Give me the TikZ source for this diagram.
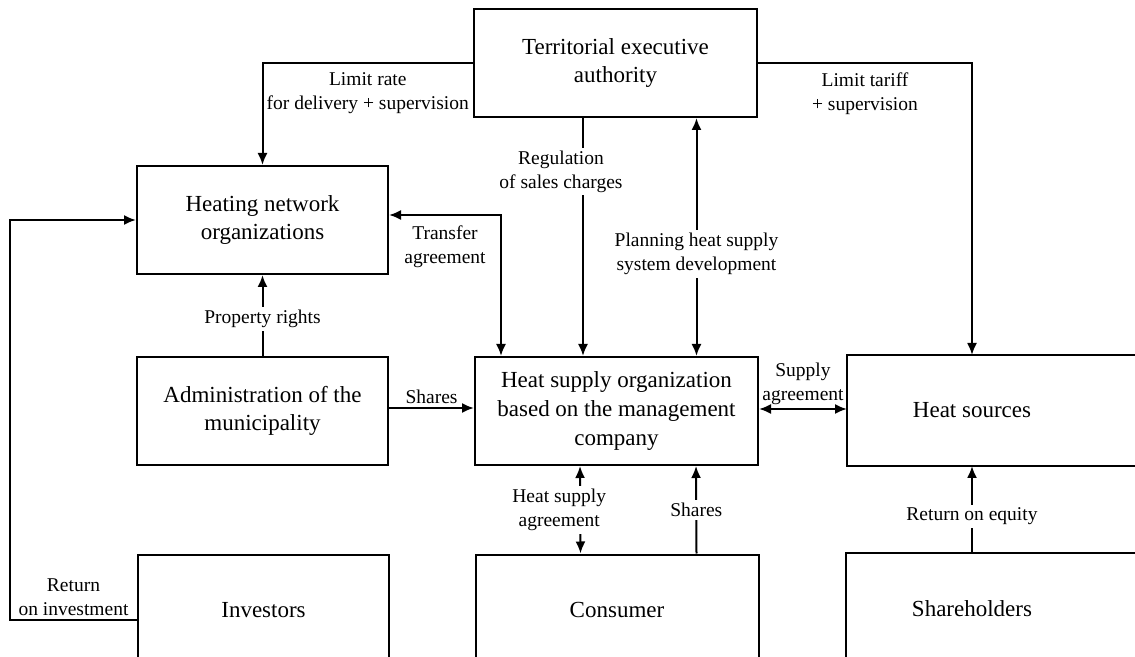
\documentclass[tikz,border=0pt]{standalone}
\usepackage{fontspec}
\setmainfont{Liberation Serif}
\usetikzlibrary{arrows.meta}
\tikzset{
  blok/.style={draw,inner sep=0pt,align=center,minimum height=54pt,
    font=\fontsize{11.5pt}{14.3pt}\selectfont},
  lbl/.style={align=center,inner sep=1.5pt,font=\fontsize{9.75pt}{12pt}\selectfont}
}
\begin{document}
\begin{tikzpicture}[x=0.5pt,y=-0.5pt,line width=1pt,>={Latex[length=6pt,width=5pt]}]
        \useasboundingbox (0,0) rectangle (1135,657);
        \clip (0,0) rectangle (1135,657);
        % the boxes
        \node[blok,minimum width=141.5pt] (tea) at (615.5,63) {Territorial executive\\authority};
        \node[blok,minimum width=125.5pt] (hno) at (262.5,220) {Heating network\\organizations};
        \node[blok,minimum width=125.5pt] (adm) at (262.5,411) {Administration of the\\municipality};
        \node[blok,minimum width=141.5pt] (hso) at (616.5,411) {Heat supply organization\\based on the management\\company};
        \node[blok,draw=none,minimum width=124pt,minimum height=54.5pt] (hsrc) at (972,410.5) {Heat sources};
        \node[blok,minimum width=125.5pt,minimum height=55pt] (inv) at (263.5,610) {Investors};
        \node[blok,minimum width=141.5pt,minimum height=55pt] (cons) at (617,609.5) {Consumer};
        \node[blok,draw=none,minimum width=125pt,minimum height=55pt] (shr) at (972,609) {Shareholders};
        % boxes cut by the right edge
        \draw ([xshift=200pt]hsrc.north west) -- (hsrc.north west) -- (hsrc.south west) -- ++(400,0);
        \draw ([xshift=200pt]shr.north west) -- (shr.north west) -- (shr.south west) -- ++(400,0);
        % from the authority
        \draw[->] (tea.west) -| node[lbl,pos=0.25,below,yshift=-3pt] {Limit rate\\for delivery + supervision} (hno.north);
        \draw[->] (tea.east) -| node[lbl,pos=0.25,below,yshift=-3pt] {Limit tariff\\+ supervision} (hsrc.north);
        \draw[->] ([xshift=55pt]tea.south west) -- node[lbl,fill=white,pos=0.225,xshift=-11pt] {Regulation\\of sales charges} ([xshift=54.5pt]hso.north west);
        \draw[<->] ([xshift=40.5pt]tea.south) -- node[lbl,fill=white,pos=0.57] {Planning heat supply\\system development} ([xshift=40pt]hso.north);
        % heating network
        \draw[<->] ([yshift=2.5pt]hno.east) -| node[lbl,pos=0.25,below,yshift=-3.5pt] {Transfer\\agreement} ([xshift=13.5pt]hso.north west);
        \draw[->] (adm.north) -- node[lbl,fill=white,pos=0.46] {Property rights} (hno.south);
        \draw[->] ([yshift=1.5pt]adm.east) -- node[lbl,above] {Shares} ([yshift=1.5pt]hso.west);
        \draw[->] ([yshift=-5pt]inv.west) -- node[lbl,above] {Return\\on investment} ++(-127,0) |- (hno.west);
        % heat supply organization
        \draw[<->] ([yshift=1pt]hso.east) -- node[lbl,above] {Supply\\agreement} ([yshift=1pt]hso.east -| hsrc.west);
        \draw[<->] ([xshift=53pt]hso.south west) -- node[lbl,fill=white,xshift=-10.5pt] {Heat supply\\agreement} ([xshift=53pt]cons.north west);
        \draw[->] ([xshift=111pt]cons.north west) -- node[lbl,fill=white] {Shares} ([xshift=111pt]hso.south west);
        \draw[->] (shr.north) -- node[lbl,fill=white,pos=0.42] {Return on equity} (hsrc.south);
\end{tikzpicture}
\end{document}
